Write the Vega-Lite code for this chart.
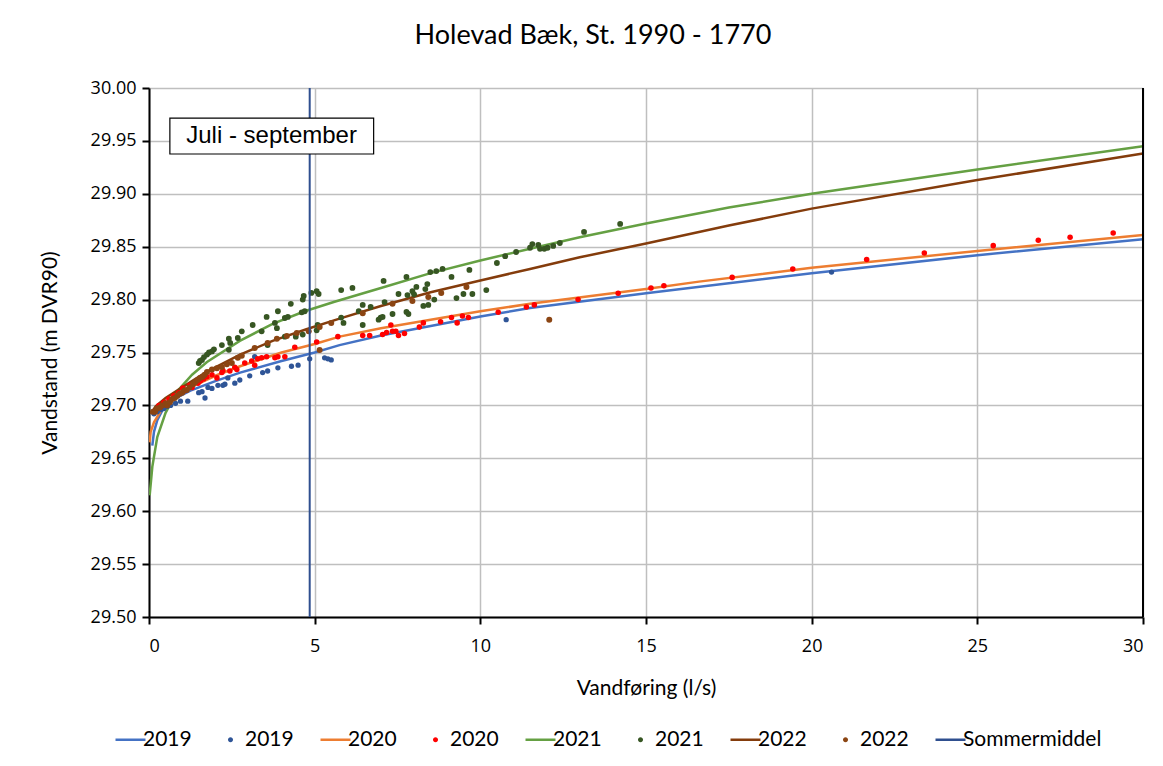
{
  "$schema": "https://vega.github.io/schema/vega-lite/v6.json",
  "width": 994,
  "height": 529,
  "autosize": {"type": "none"},
  "padding": {"left": 149, "top": 88, "right": 20, "bottom": 149},
  "background": "#ffffff",
  "title": {
    "text": "Holevad Bæk, St. 1990 - 1770",
    "font": "Lato",
    "fontSize": 27,
    "fontWeight": "normal",
    "color": "#000000",
    "anchor": "middle",
    "dx": -53,
    "offset": 29
  },
  "config": {
    "view": {"stroke": null},
    "axis": {
      "domainColor": "#000000",
      "domainWidth": 2,
      "tickColor": "#000000",
      "tickWidth": 2,
      "tickSize": 7,
      "gridColor": "#BFBFBF",
      "gridWidth": 1.5,
      "labelFont": "Open Sans",
      "labelFontSize": 18,
      "labelColor": "#000000",
      "titleFont": "Lato",
      "titleFontSize": 21,
      "titleFontWeight": "normal",
      "titleColor": "#000000"
    }
  },
  "datasets": {
    "sommer": [{"serie": "LSommermiddel", "q": 4.85}],
    "curves": [
      {"serie": "L2019", "q": 0.1, "h": 29.662}, {"serie": "L2019", "q": 0.15, "h": 29.675}, {"serie": "L2019", "q": 0.25, "h": 29.686}, {"serie": "L2019", "q": 0.4, "h": 29.695}, {"serie": "L2019", "q": 0.75, "h": 29.706}, {"serie": "L2019", "q": 1.25, "h": 29.714}, {"serie": "L2019", "q": 2, "h": 29.723}, {"serie": "L2019", "q": 2.75, "h": 29.731}, {"serie": "L2019", "q": 4, "h": 29.742}, {"serie": "L2019", "q": 5, "h": 29.75}, {"serie": "L2019", "q": 5.75, "h": 29.757}, {"serie": "L2019", "q": 7, "h": 29.766}, {"serie": "L2019", "q": 10, "h": 29.784}, {"serie": "L2019", "q": 11.5, "h": 29.792}, {"serie": "L2019", "q": 15, "h": 29.806}, {"serie": "L2019", "q": 20, "h": 29.825}, {"serie": "L2019", "q": 25, "h": 29.842}, {"serie": "L2019", "q": 30, "h": 29.857},
      {"serie": "L2020", "q": 0.02, "h": 29.665}, {"serie": "L2020", "q": 0.05, "h": 29.675}, {"serie": "L2020", "q": 0.15, "h": 29.684}, {"serie": "L2020", "q": 0.4, "h": 29.697}, {"serie": "L2020", "q": 0.75, "h": 29.707}, {"serie": "L2020", "q": 1.25, "h": 29.717}, {"serie": "L2020", "q": 2, "h": 29.728}, {"serie": "L2020", "q": 2.75, "h": 29.737}, {"serie": "L2020", "q": 4, "h": 29.75}, {"serie": "L2020", "q": 5, "h": 29.758}, {"serie": "L2020", "q": 5.75, "h": 29.765}, {"serie": "L2020", "q": 7, "h": 29.773}, {"serie": "L2020", "q": 10, "h": 29.789}, {"serie": "L2020", "q": 11.5, "h": 29.796}, {"serie": "L2020", "q": 15, "h": 29.81}, {"serie": "L2020", "q": 16.6, "h": 29.817}, {"serie": "L2020", "q": 20, "h": 29.83}, {"serie": "L2020", "q": 25, "h": 29.846}, {"serie": "L2020", "q": 30, "h": 29.861},
      {"serie": "L2021", "q": 0.02, "h": 29.615}, {"serie": "L2021", "q": 0.1, "h": 29.642}, {"serie": "L2021", "q": 0.25, "h": 29.67}, {"serie": "L2021", "q": 0.5, "h": 29.693}, {"serie": "L2021", "q": 0.84, "h": 29.713}, {"serie": "L2021", "q": 1.3, "h": 29.729}, {"serie": "L2021", "q": 1.75, "h": 29.741}, {"serie": "L2021", "q": 2.74, "h": 29.761}, {"serie": "L2021", "q": 3.73, "h": 29.777}, {"serie": "L2021", "q": 4.7, "h": 29.789}, {"serie": "L2021", "q": 5.6, "h": 29.798}, {"serie": "L2021", "q": 7, "h": 29.811}, {"serie": "L2021", "q": 8.5, "h": 29.825}, {"serie": "L2021", "q": 10, "h": 29.837}, {"serie": "L2021", "q": 11.5, "h": 29.848}, {"serie": "L2021", "q": 13, "h": 29.859}, {"serie": "L2021", "q": 15, "h": 29.872}, {"serie": "L2021", "q": 17.5, "h": 29.887}, {"serie": "L2021", "q": 20, "h": 29.9}, {"serie": "L2021", "q": 25, "h": 29.923}, {"serie": "L2021", "q": 30, "h": 29.945},
      {"serie": "L2022", "q": 0.05, "h": 29.692}, {"serie": "L2022", "q": 0.2, "h": 29.699}, {"serie": "L2022", "q": 0.5, "h": 29.707}, {"serie": "L2022", "q": 1, "h": 29.717}, {"serie": "L2022", "q": 1.75, "h": 29.732}, {"serie": "L2022", "q": 2.75, "h": 29.748}, {"serie": "L2022", "q": 3.73, "h": 29.761}, {"serie": "L2022", "q": 4.75, "h": 29.772}, {"serie": "L2022", "q": 5.75, "h": 29.782}, {"serie": "L2022", "q": 7, "h": 29.794}, {"serie": "L2022", "q": 8.5, "h": 29.807}, {"serie": "L2022", "q": 10, "h": 29.818}, {"serie": "L2022", "q": 11.5, "h": 29.829}, {"serie": "L2022", "q": 13, "h": 29.84}, {"serie": "L2022", "q": 15, "h": 29.853}, {"serie": "L2022", "q": 17.5, "h": 29.87}, {"serie": "L2022", "q": 20, "h": 29.886}, {"serie": "L2022", "q": 25, "h": 29.913}, {"serie": "L2022", "q": 30, "h": 29.938}
    ],
    "points": [
      {"serie": "P2019", "q": 0.15, "h": 29.692}, {"serie": "P2019", "q": 0.25, "h": 29.694}, {"serie": "P2019", "q": 0.35, "h": 29.696}, {"serie": "P2019", "q": 0.45, "h": 29.697}, {"serie": "P2019", "q": 0.55, "h": 29.699}, {"serie": "P2019", "q": 0.65, "h": 29.7}, {"serie": "P2019", "q": 0.8, "h": 29.702}, {"serie": "P2019", "q": 0.95, "h": 29.704}, {"serie": "P2019", "q": 1.17, "h": 29.704}, {"serie": "P2019", "q": 1.5, "h": 29.712}, {"serie": "P2019", "q": 1.6, "h": 29.713}, {"serie": "P2019", "q": 1.69, "h": 29.707}, {"serie": "P2019", "q": 1.78, "h": 29.717}, {"serie": "P2019", "q": 1.9, "h": 29.716}, {"serie": "P2019", "q": 2.08, "h": 29.719}, {"serie": "P2019", "q": 2.23, "h": 29.719}, {"serie": "P2019", "q": 2.29, "h": 29.72}, {"serie": "P2019", "q": 2.38, "h": 29.726}, {"serie": "P2019", "q": 2.59, "h": 29.721}, {"serie": "P2019", "q": 2.74, "h": 29.724}, {"serie": "P2019", "q": 3.04, "h": 29.728}, {"serie": "P2019", "q": 3.19, "h": 29.746}, {"serie": "P2019", "q": 3.43, "h": 29.731}, {"serie": "P2019", "q": 3.58, "h": 29.7325}, {"serie": "P2019", "q": 3.89, "h": 29.7355}, {"serie": "P2019", "q": 4.3, "h": 29.737}, {"serie": "P2019", "q": 4.5, "h": 29.738}, {"serie": "P2019", "q": 4.85, "h": 29.744}, {"serie": "P2019", "q": 5.3, "h": 29.745}, {"serie": "P2019", "q": 5.4, "h": 29.744}, {"serie": "P2019", "q": 5.5, "h": 29.743}, {"serie": "P2019", "q": 10.78, "h": 29.781}, {"serie": "P2019", "q": 20.6, "h": 29.826},
      {"serie": "P2020", "q": 0.3, "h": 29.7}, {"serie": "P2020", "q": 0.45, "h": 29.703}, {"serie": "P2020", "q": 0.6, "h": 29.706}, {"serie": "P2020", "q": 0.75, "h": 29.709}, {"serie": "P2020", "q": 0.9, "h": 29.712}, {"serie": "P2020", "q": 1.02, "h": 29.7165}, {"serie": "P2020", "q": 1.1, "h": 29.714}, {"serie": "P2020", "q": 1.23, "h": 29.719}, {"serie": "P2020", "q": 1.3, "h": 29.717}, {"serie": "P2020", "q": 1.48, "h": 29.721}, {"serie": "P2020", "q": 1.55, "h": 29.723}, {"serie": "P2020", "q": 1.65, "h": 29.725}, {"serie": "P2020", "q": 1.75, "h": 29.727}, {"serie": "P2020", "q": 1.9, "h": 29.729}, {"serie": "P2020", "q": 2.05, "h": 29.726}, {"serie": "P2020", "q": 2.2, "h": 29.731}, {"serie": "P2020", "q": 2.23, "h": 29.733}, {"serie": "P2020", "q": 2.44, "h": 29.7325}, {"serie": "P2020", "q": 2.59, "h": 29.736}, {"serie": "P2020", "q": 2.65, "h": 29.734}, {"serie": "P2020", "q": 2.89, "h": 29.74}, {"serie": "P2020", "q": 3.1, "h": 29.742}, {"serie": "P2020", "q": 3.19, "h": 29.738}, {"serie": "P2020", "q": 3.28, "h": 29.744}, {"serie": "P2020", "q": 3.4, "h": 29.745}, {"serie": "P2020", "q": 3.55, "h": 29.746}, {"serie": "P2020", "q": 3.8, "h": 29.745}, {"serie": "P2020", "q": 3.89, "h": 29.746}, {"serie": "P2020", "q": 4.1, "h": 29.746}, {"serie": "P2020", "q": 4.4, "h": 29.755}, {"serie": "P2020", "q": 5.06, "h": 29.76}, {"serie": "P2020", "q": 5.7, "h": 29.765}, {"serie": "P2020", "q": 6.45, "h": 29.766}, {"serie": "P2020", "q": 6.66, "h": 29.766}, {"serie": "P2020", "q": 7.05, "h": 29.767}, {"serie": "P2020", "q": 7.17, "h": 29.769}, {"serie": "P2020", "q": 7.3, "h": 29.776}, {"serie": "P2020", "q": 7.35, "h": 29.77}, {"serie": "P2020", "q": 7.45, "h": 29.77}, {"serie": "P2020", "q": 7.53, "h": 29.766}, {"serie": "P2020", "q": 7.71, "h": 29.768}, {"serie": "P2020", "q": 8.16, "h": 29.774}, {"serie": "P2020", "q": 8.28, "h": 29.778}, {"serie": "P2020", "q": 8.8, "h": 29.779}, {"serie": "P2020", "q": 9.13, "h": 29.783}, {"serie": "P2020", "q": 9.3, "h": 29.778}, {"serie": "P2020", "q": 9.46, "h": 29.7845}, {"serie": "P2020", "q": 9.64, "h": 29.783}, {"serie": "P2020", "q": 10.54, "h": 29.788}, {"serie": "P2020", "q": 11.39, "h": 29.793}, {"serie": "P2020", "q": 11.63, "h": 29.795}, {"serie": "P2020", "q": 12.95, "h": 29.8}, {"serie": "P2020", "q": 14.16, "h": 29.806}, {"serie": "P2020", "q": 15.15, "h": 29.811}, {"serie": "P2020", "q": 15.54, "h": 29.813}, {"serie": "P2020", "q": 17.6, "h": 29.821}, {"serie": "P2020", "q": 19.43, "h": 29.829}, {"serie": "P2020", "q": 21.66, "h": 29.838}, {"serie": "P2020", "q": 23.4, "h": 29.844}, {"serie": "P2020", "q": 25.48, "h": 29.851}, {"serie": "P2020", "q": 26.84, "h": 29.856}, {"serie": "P2020", "q": 27.8, "h": 29.859}, {"serie": "P2020", "q": 29.1, "h": 29.863},
      {"serie": "P2021", "q": 1.5, "h": 29.74}, {"serie": "P2021", "q": 1.54, "h": 29.742}, {"serie": "P2021", "q": 1.6, "h": 29.743}, {"serie": "P2021", "q": 1.66, "h": 29.7457}, {"serie": "P2021", "q": 1.75, "h": 29.748}, {"serie": "P2021", "q": 1.81, "h": 29.75}, {"serie": "P2021", "q": 1.9, "h": 29.751}, {"serie": "P2021", "q": 1.96, "h": 29.753}, {"serie": "P2021", "q": 2.2, "h": 29.757}, {"serie": "P2021", "q": 2.41, "h": 29.763}, {"serie": "P2021", "q": 2.41, "h": 29.7525}, {"serie": "P2021", "q": 2.45, "h": 29.759}, {"serie": "P2021", "q": 2.68, "h": 29.7637}, {"serie": "P2021", "q": 2.8, "h": 29.77}, {"serie": "P2021", "q": 3.13, "h": 29.776}, {"serie": "P2021", "q": 3.4, "h": 29.77}, {"serie": "P2021", "q": 3.55, "h": 29.7836}, {"serie": "P2021", "q": 3.58, "h": 29.757}, {"serie": "P2021", "q": 3.8, "h": 29.778}, {"serie": "P2021", "q": 3.86, "h": 29.773}, {"serie": "P2021", "q": 3.89, "h": 29.789}, {"serie": "P2021", "q": 4.1, "h": 29.7826}, {"serie": "P2021", "q": 4.1, "h": 29.765}, {"serie": "P2021", "q": 4.19, "h": 29.7836}, {"serie": "P2021", "q": 4.28, "h": 29.796}, {"serie": "P2021", "q": 4.43, "h": 29.765}, {"serie": "P2021", "q": 4.61, "h": 29.788}, {"serie": "P2021", "q": 4.7, "h": 29.789}, {"serie": "P2021", "q": 4.64, "h": 29.8}, {"serie": "P2021", "q": 4.67, "h": 29.8034}, {"serie": "P2021", "q": 4.64, "h": 29.767}, {"serie": "P2021", "q": 4.9, "h": 29.8063}, {"serie": "P2021", "q": 5.06, "h": 29.808}, {"serie": "P2021", "q": 5.12, "h": 29.8053}, {"serie": "P2021", "q": 5.09, "h": 29.776}, {"serie": "P2021", "q": 5.06, "h": 29.771}, {"serie": "P2021", "q": 5.8, "h": 29.809}, {"serie": "P2021", "q": 5.8, "h": 29.783}, {"serie": "P2021", "q": 5.87, "h": 29.778}, {"serie": "P2021", "q": 6.14, "h": 29.811}, {"serie": "P2021", "q": 6.33, "h": 29.789}, {"serie": "P2021", "q": 6.45, "h": 29.795}, {"serie": "P2021", "q": 6.45, "h": 29.776}, {"serie": "P2021", "q": 6.69, "h": 29.793}, {"serie": "P2021", "q": 6.93, "h": 29.781}, {"serie": "P2021", "q": 6.99, "h": 29.783}, {"serie": "P2021", "q": 7.05, "h": 29.7836}, {"serie": "P2021", "q": 7.08, "h": 29.8176}, {"serie": "P2021", "q": 7.11, "h": 29.7977}, {"serie": "P2021", "q": 7.35, "h": 29.7864}, {"serie": "P2021", "q": 7.53, "h": 29.8053}, {"serie": "P2021", "q": 7.77, "h": 29.8214}, {"serie": "P2021", "q": 7.77, "h": 29.7883}, {"serie": "P2021", "q": 7.83, "h": 29.7864}, {"serie": "P2021", "q": 7.8, "h": 29.8043}, {"serie": "P2021", "q": 7.95, "h": 29.808}, {"serie": "P2021", "q": 8.0, "h": 29.805}, {"serie": "P2021", "q": 8.07, "h": 29.812}, {"serie": "P2021", "q": 8.28, "h": 29.794}, {"serie": "P2021", "q": 8.34, "h": 29.81}, {"serie": "P2021", "q": 8.4, "h": 29.8147}, {"serie": "P2021", "q": 8.43, "h": 29.795}, {"serie": "P2021", "q": 8.61, "h": 29.8}, {"serie": "P2021", "q": 8.49, "h": 29.826}, {"serie": "P2021", "q": 8.67, "h": 29.827}, {"serie": "P2021", "q": 8.86, "h": 29.829}, {"serie": "P2021", "q": 9.13, "h": 29.8214}, {"serie": "P2021", "q": 9.28, "h": 29.8015}, {"serie": "P2021", "q": 9.49, "h": 29.8053}, {"serie": "P2021", "q": 9.67, "h": 29.828}, {"serie": "P2021", "q": 9.76, "h": 29.8053}, {"serie": "P2021", "q": 10.18, "h": 29.809}, {"serie": "P2021", "q": 10.5, "h": 29.8346}, {"serie": "P2021", "q": 10.75, "h": 29.841}, {"serie": "P2021", "q": 11.08, "h": 29.845}, {"serie": "P2021", "q": 11.5, "h": 29.849}, {"serie": "P2021", "q": 11.57, "h": 29.8525}, {"serie": "P2021", "q": 11.75, "h": 29.8516}, {"serie": "P2021", "q": 11.8, "h": 29.848}, {"serie": "P2021", "q": 11.93, "h": 29.848}, {"serie": "P2021", "q": 12.03, "h": 29.849}, {"serie": "P2021", "q": 12.2, "h": 29.8507}, {"serie": "P2021", "q": 12.4, "h": 29.8535}, {"serie": "P2021", "q": 13.13, "h": 29.864}, {"serie": "P2021", "q": 14.22, "h": 29.8715},
      {"serie": "P2022", "q": 0.12, "h": 29.694}, {"serie": "P2022", "q": 0.18, "h": 29.694}, {"serie": "P2022", "q": 0.25, "h": 29.697}, {"serie": "P2022", "q": 0.33, "h": 29.698}, {"serie": "P2022", "q": 0.4, "h": 29.7}, {"serie": "P2022", "q": 0.5, "h": 29.702}, {"serie": "P2022", "q": 0.55, "h": 29.7}, {"serie": "P2022", "q": 0.63, "h": 29.703}, {"serie": "P2022", "q": 0.7, "h": 29.706}, {"serie": "P2022", "q": 0.78, "h": 29.707}, {"serie": "P2022", "q": 0.85, "h": 29.709}, {"serie": "P2022", "q": 0.93, "h": 29.711}, {"serie": "P2022", "q": 1.0, "h": 29.712}, {"serie": "P2022", "q": 1.07, "h": 29.714}, {"serie": "P2022", "q": 1.14, "h": 29.7146}, {"serie": "P2022", "q": 1.22, "h": 29.717}, {"serie": "P2022", "q": 1.33, "h": 29.72}, {"serie": "P2022", "q": 1.4, "h": 29.722}, {"serie": "P2022", "q": 1.47, "h": 29.724}, {"serie": "P2022", "q": 1.54, "h": 29.726}, {"serie": "P2022", "q": 1.62, "h": 29.727}, {"serie": "P2022", "q": 1.68, "h": 29.729}, {"serie": "P2022", "q": 1.75, "h": 29.7316}, {"serie": "P2022", "q": 1.9, "h": 29.734}, {"serie": "P2022", "q": 2.05, "h": 29.735}, {"serie": "P2022", "q": 2.2, "h": 29.7363}, {"serie": "P2022", "q": 2.35, "h": 29.739}, {"serie": "P2022", "q": 2.5, "h": 29.74}, {"serie": "P2022", "q": 2.68, "h": 29.745}, {"serie": "P2022", "q": 2.8, "h": 29.747}, {"serie": "P2022", "q": 3.19, "h": 29.7543}, {"serie": "P2022", "q": 3.58, "h": 29.759}, {"serie": "P2022", "q": 3.86, "h": 29.763}, {"serie": "P2022", "q": 4.16, "h": 29.7656}, {"serie": "P2022", "q": 4.46, "h": 29.7684}, {"serie": "P2022", "q": 4.82, "h": 29.77}, {"serie": "P2022", "q": 5.15, "h": 29.774}, {"serie": "P2022", "q": 5.15, "h": 29.7524}, {"serie": "P2022", "q": 5.5, "h": 29.778}, {"serie": "P2022", "q": 6.45, "h": 29.787}, {"serie": "P2022", "q": 7.35, "h": 29.796}, {"serie": "P2022", "q": 7.95, "h": 29.7987}, {"serie": "P2022", "q": 8.43, "h": 29.8025}, {"serie": "P2022", "q": 8.82, "h": 29.8063}, {"serie": "P2022", "q": 9.58, "h": 29.812}, {"serie": "P2022", "q": 12.08, "h": 29.781}
    ]
  },
  "layer": [
    {
      "data": {"name": "curves"},
      "mark": {"type": "line", "strokeWidth": 2.5, "clip": true},
      "encoding": {
        "x": {
          "field": "q", "type": "quantitative",
          "scale": {"domain": [0, 30], "nice": false, "zero": false},
          "axis": {"values": [0, 5, 10, 15, 20, 25, 30], "title": "Vandføring (l/s)", "labelPadding": 13, "titlePadding": 22}
        },
        "y": {
          "field": "h", "type": "quantitative",
          "scale": {"domain": [29.5, 30], "nice": false, "zero": false},
          "axis": {"values": [29.5, 29.55, 29.6, 29.65, 29.7, 29.75, 29.8, 29.85, 29.9, 29.95, 30], "format": ".2f", "title": "Vandstand (m DVR90)", "labelPadding": 6, "titlePadding": 30}
        },
        "color": {
          "field": "serie", "type": "nominal",
          "scale": {
            "domain": ["L2019", "P2019", "L2020", "P2020", "L2021", "P2021", "L2022", "P2022", "LSommermiddel"],
            "range": ["#4472C4", "#2F5597", "#ED7D31", "#FF0000", "#65A043", "#375623", "#843C0C", "#8B4513", "#2F4F8F"]
          },
          "legend": {
            "orient": "none",
            "legendX": -29,
            "legendY": 641,
            "direction": "horizontal",
            "columns": 9,
            "title": null,
            "labelExpr": "substring(datum.label, 1)",
            "labelFont": "Lato",
            "labelFontSize": 21,
            "labelColor": "#000000",
            "labelOffset": 2,
            "symbolSize": 900,
            "columnPadding": 20.5,
            "encode": {
              "symbols": {
                "update": {
                  "shape": {"signal": "test(/^P/, datum.value) ? 'M0.333,0A0.1667,0.1667 0 1,1 0.667,0A0.1667,0.1667 0 1,1 0.333,0Z' : 'M-1,0H1'"},
                  "size": {"value": 900},
                  "strokeWidth": {"signal": "test(/^P/, datum.value) ? 0 : 2.5"},
                  "fill": {"signal": "test(/^P/, datum.value) ? scale('color', datum.value) : 'transparent'"},
                  "stroke": {"signal": "scale('color', datum.value)"},
                  "opacity": {"value": 1}
                }
              },
              "labels": {
                "update": {
                  "dx": {"signal": "test(/^P/, datum.value) ? 9.5 : 0"}
                }
              }
            }
          }
        }
      }
    },
    {
      "data": {"name": "points"},
      "mark": {"type": "point", "filled": true, "opacity": 1},
      "encoding": {
        "x": {"field": "q", "type": "quantitative"},
        "y": {"field": "h", "type": "quantitative"},
        "color": {"field": "serie", "type": "nominal"},
        "size": {
          "field": "serie", "type": "nominal",
          "scale": {"domain": ["P2019", "P2020", "P2021", "P2022"], "range": [28, 36, 70, 22]},
          "legend": null
        }
      }
    },
    {
      "data": {"name": "sommer"},
      "mark": {"type": "rule", "strokeWidth": 2},
      "encoding": {
        "x": {"field": "q", "type": "quantitative"},
        "color": {"field": "serie", "type": "nominal"}
      }
    },
    {
      "data": {"name": "sommer"},
      "mark": {"type": "rule", "strokeWidth": 2, "color": "#000000"},
      "encoding": {
        "x": {"datum": 30, "type": "quantitative"}
      }
    },
    {
      "data": {"name": "sommer"},
      "mark": {"type": "rect", "fill": "#ffffff", "stroke": "#000000", "strokeWidth": 1.2},
      "encoding": {
        "x": {"datum": 0.63, "type": "quantitative"},
        "x2": {"datum": 6.78},
        "y": {"datum": 29.9716, "type": "quantitative"},
        "y2": {"datum": 29.9376}
      }
    },
    {
      "data": {"name": "sommer"},
      "mark": {"type": "text", "font": "Liberation Sans", "fontSize": 24, "color": "#000000", "align": "center", "baseline": "middle"},
      "encoding": {
        "x": {"datum": 3.7, "type": "quantitative"},
        "y": {"datum": 29.9546, "type": "quantitative"},
        "text": {"value": "Juli - september"}
      }
    }
  ]
}
